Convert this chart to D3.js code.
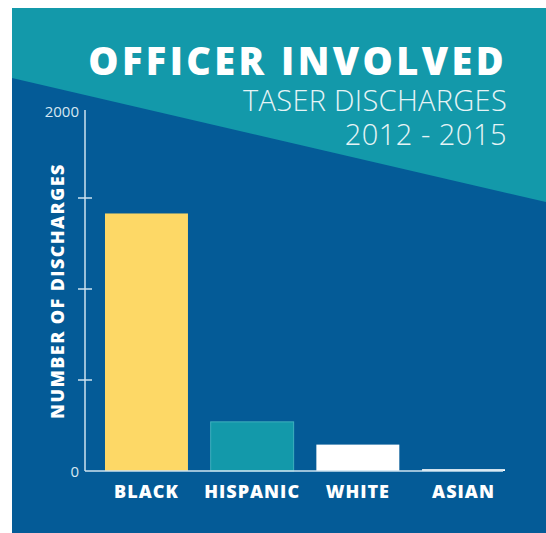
<!DOCTYPE html>
<html>
<head>
<meta charset="utf-8">
<script src="https://cdn.jsdelivr.net/npm/d3@7"></script>
<style>
  body { margin: 0; background: #fff; }
  svg { display: block; font-family: "Open Sans", sans-serif; }
</style>
</head>
<body>
<svg id="chart" width="546" height="533"></svg>
<script>
// data
const groups = ["BLACK", "HISPANIC", "WHITE", "ASIAN"];
const discharges = [1415, 270, 145, 10];
const barColors = ["#fdd866", "#1399aa", "#ffffff", "#ffffff"];
const tickValues = [0, 500, 1000, 1500, 2000];
const tickLabels = ["0", "", "", "", "2000"];

const svg = d3.select("#chart");
const panel = {left: 12, top: 8, right: 546, bottom: 533};

// background
svg.append("rect")
  .attr("x", panel.left).attr("y", panel.top)
  .attr("width", panel.right - panel.left).attr("height", panel.bottom - panel.top)
  .attr("fill", "#045b97");

// teal header wedge
svg.append("path")
  .attr("d", `M${panel.left},${panel.top} L${panel.right},${panel.top} L${panel.right},202 L${panel.left},78 Z`)
  .attr("fill", "#1399aa");

// titles
svg.append("text")
  .attr("x", 507).attr("y", 75)
  .attr("text-anchor", "end")
  .attr("fill", "#fff")
  .attr("font-size", 38).attr("font-weight", 800)
  .attr("letter-spacing", 3.4)
  .text("OFFICER INVOLVED");
svg.append("text")
  .attr("x", 507).attr("y", 111)
  .attr("text-anchor", "end")
  .attr("fill", "#e6f4f6")
  .attr("font-size", 29).attr("font-weight", 300)
  .attr("letter-spacing", 0.3)
  .text("TASER DISCHARGES");
svg.append("text")
  .attr("x", 507).attr("y", 145)
  .attr("text-anchor", "end")
  .attr("fill", "#e6f4f6")
  .attr("font-size", 29).attr("font-weight", 300)
  .attr("letter-spacing", 0.5)
  .text("2012 - 2015");

// scales
const x = d3.scaleBand()
  .domain(groups)
  .range([105, 505])
  .paddingInner(0.215);
const y = d3.scaleLinear()
  .domain([0, 2000])
  .range([471, 107]);

// bars
svg.selectAll(".bar")
  .data(groups)
  .enter()
  .append("rect")
    .attr("class", "bar")
    .attr("x", d => x(d))
    .attr("y", (d, i) => y(discharges[i]))
    .attr("width", x.bandwidth())
    .attr("height", (d, i) => y(0) - y(discharges[i]))
    .attr("fill", (d, i) => barColors[i])
    .attr("stroke", (d, i) => i === 1 ? "#3fb0be" : "none")
    .attr("stroke-width", 1);

// axes lines
const axisColor = "#cde2ef";
svg.append("line")
  .attr("x1", 85).attr("x2", 85)
  .attr("y1", y(0)).attr("y2", 110)
  .attr("stroke", axisColor).attr("stroke-width", 1.5);
svg.append("line")
  .attr("x1", 85).attr("x2", 503)
  .attr("y1", y(0)).attr("y2", y(0))
  .attr("stroke", axisColor).attr("stroke-width", 1.5);

// y ticks (cross marks for inner ticks)
svg.selectAll(".tick")
  .data(tickValues.filter(v => v > 0 && v < 2000))
  .enter()
  .append("line")
    .attr("x1", 78).attr("x2", 92)
    .attr("y1", d => y(d)).attr("y2", d => y(d))
    .attr("stroke", axisColor).attr("stroke-width", 1.5);

svg.selectAll(".ticklabel")
  .data(tickValues)
  .enter()
  .append("text")
    .attr("x", 79)
    .attr("y", (d, i) => i === 4 ? 117 : y(d) + 6)
    .attr("text-anchor", "end")
    .attr("fill", "#d7e7f2")
    .attr("font-size", 15)
    .text((d, i) => tickLabels[i]);

// category labels
svg.selectAll(".cat")
  .data(groups)
  .enter()
  .append("text")
    .attr("x", d => x(d) + x.bandwidth() / 2)
    .attr("y", 498)
    .attr("text-anchor", "middle")
    .attr("fill", "#fff")
    .attr("font-size", 18).attr("font-weight", 800)
    .attr("letter-spacing", 1)
    .text(d => d);

// y axis title
svg.append("text")
  .attr("transform", "translate(64,291) rotate(-90)")
  .attr("text-anchor", "middle")
  .attr("fill", "#fff")
  .attr("font-size", 18).attr("font-weight", 800)
  .attr("letter-spacing", 1.4)
  .text("NUMBER OF DISCHARGES");
</script>
</body>
</html>
